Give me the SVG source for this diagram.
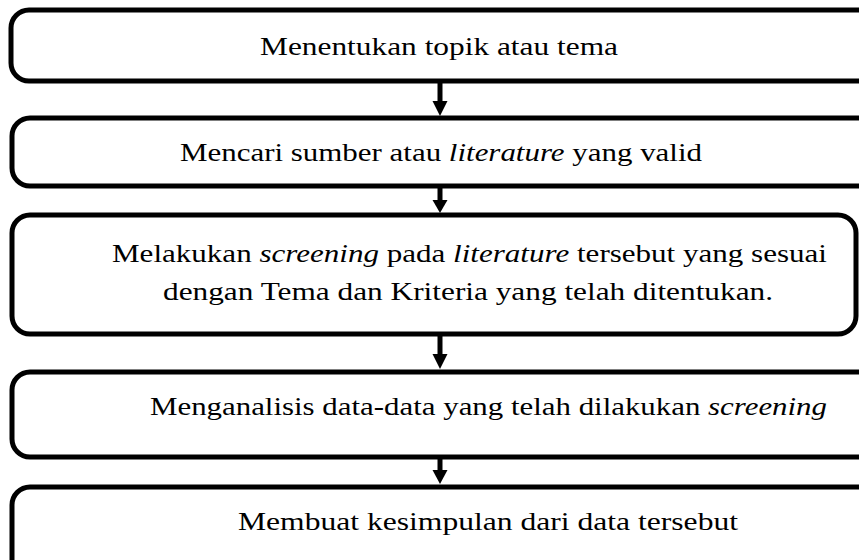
<svg xmlns="http://www.w3.org/2000/svg" width="859" height="560" viewBox="0 0 859 560">
<style>
.box{fill:#fff;stroke:#000;stroke-width:5}
.t{font-family:"Liberation Serif","DejaVu Serif",serif;font-size:26px;fill:#000}
.i{font-style:italic}
.shaft{stroke:#000;stroke-width:5}
</style>
<rect width="859" height="560" fill="#fff"/>
<g id="n1"><rect class="box" x="11" y="10" width="866" height="71" rx="18"/>
<text class="t" x="260" y="55" textLength="358" lengthAdjust="spacingAndGlyphs">Menentukan topik atau tema</text></g>
<g id="n2"><rect class="box" x="12" y="118" width="866" height="68" rx="18"/>
<text class="t" x="180" y="161" textLength="522" lengthAdjust="spacingAndGlyphs">Mencari sumber atau <tspan class="i">literature</tspan> yang valid</text></g>
<g id="n3"><rect class="box" x="12" y="215" width="844" height="119" rx="18"/>
<text class="t" x="112" y="262" textLength="715" lengthAdjust="spacingAndGlyphs">Melakukan <tspan class="i">screening</tspan> pada <tspan class="i">literature</tspan> tersebut yang sesuai</text>
<text class="t" x="163" y="300" textLength="610" lengthAdjust="spacingAndGlyphs">dengan Tema dan Kriteria yang telah ditentukan.</text></g>
<g id="n4"><rect class="box" x="12" y="372" width="866" height="85" rx="18"/>
<text class="t" x="150" y="415" textLength="677" lengthAdjust="spacingAndGlyphs">Menganalisis data-data yang telah dilakukan <tspan class="i">screening</tspan></text></g>
<g id="n5"><rect class="box" x="12" y="487" width="866" height="90" rx="18"/>
<text class="t" x="238" y="530" textLength="500" lengthAdjust="spacingAndGlyphs">Membuat kesimpulan dari data tersebut</text></g>
<g id="connectors">
<line class="shaft" x1="440" y1="83" x2="440" y2="104"/><polygon points="432.5,101 447.5,101 440,116"/>
<line class="shaft" x1="440" y1="188" x2="440" y2="203"/><polygon points="432.5,200 447.5,200 440,213"/>
<line class="shaft" x1="440" y1="336" x2="440" y2="357"/><polygon points="432.5,354 447.5,354 440,369"/>
<line class="shaft" x1="440" y1="459" x2="440" y2="473"/><polygon points="432.5,470 447.5,470 440,484"/>
</g>
</svg>
